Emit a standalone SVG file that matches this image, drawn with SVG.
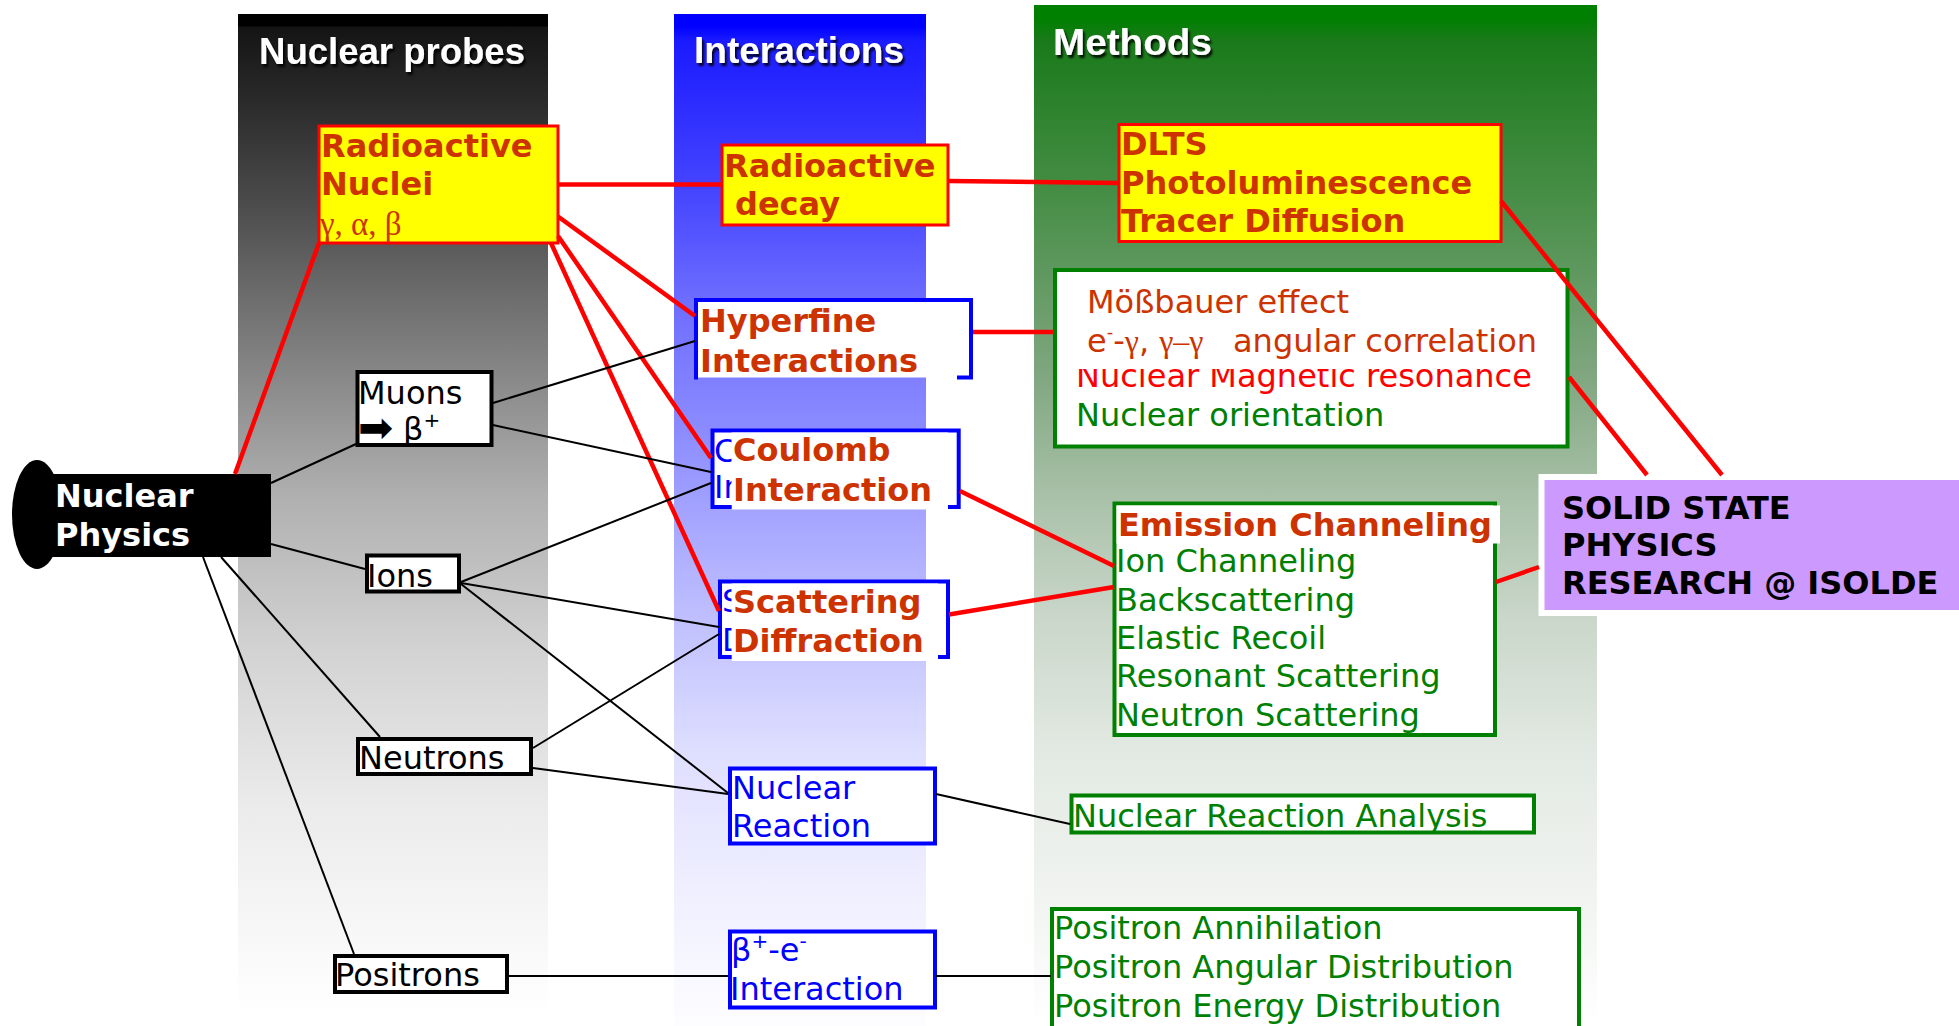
<svg xmlns="http://www.w3.org/2000/svg" width="1959" height="1026" viewBox="0 0 1959 1026">
<defs>
<linearGradient id="gProbe" x1="0" y1="0" x2="0" y2="1">
<stop offset="0" stop-color="#000"/><stop offset="0.012" stop-color="#000"/><stop offset="0.013" stop-color="#141414"/>
<stop offset="0.086" stop-color="#2a2a2a"/><stop offset="0.186" stop-color="#4a4a4a"/><stop offset="0.287" stop-color="#6e6e6e"/>
<stop offset="0.417" stop-color="#9a9a9a"/><stop offset="0.484" stop-color="#b0b0b0"/><stop offset="0.639" stop-color="#d3d3d3"/>
<stop offset="0.794" stop-color="#ebebeb"/><stop offset="1" stop-color="#fff"/>
</linearGradient>
<linearGradient id="gInter" x1="0" y1="0" x2="0" y2="1">
<stop offset="0" stop-color="#0000ff"/><stop offset="0.012" stop-color="#0000ff"/><stop offset="0.026" stop-color="#1a1aff"/>
<stop offset="0.184" stop-color="#4848ff"/><stop offset="0.283" stop-color="#6d6dff"/><stop offset="0.414" stop-color="#8c8cff"/>
<stop offset="0.5" stop-color="#a6a6ff"/><stop offset="0.6" stop-color="#c0c0ff"/><stop offset="0.727" stop-color="#dedeff"/>
<stop offset="0.875" stop-color="#f0f0ff"/><stop offset="1" stop-color="#fdfdff"/>
</linearGradient>
<linearGradient id="gMeth" x1="0" y1="0" x2="0" y2="1">
<stop offset="0" stop-color="#008000"/><stop offset="0.013" stop-color="#008000"/><stop offset="0.035" stop-color="#1a7a1a"/>
<stop offset="0.198" stop-color="#4a8f4a"/><stop offset="0.36" stop-color="#7fa67f"/><stop offset="0.483" stop-color="#a9c1a9"/>
<stop offset="0.604" stop-color="#cbd7cb"/><stop offset="0.73" stop-color="#e2e9e2"/><stop offset="0.877" stop-color="#f1f4f1"/>
<stop offset="1" stop-color="#fff"/>
</linearGradient>
<filter id="shadow" x="-10%" y="-30%" width="120%" height="160%">
<feDropShadow dx="2" dy="3" stdDeviation="1" flood-color="#000" flood-opacity="0.85"/>
</filter>
<clipPath id="nmrClip"><rect x="1060" y="369" width="500" height="30"/></clipPath>
<clipPath id="ghostC"><rect x="712" y="430" width="19.7" height="80"/></clipPath>
<clipPath id="ghostS"><rect x="720" y="580" width="11.7" height="80"/></clipPath>
<style>
.hdr{font-family:"Liberation Sans",Arial,sans-serif;font-weight:bold;font-size:37px;fill:#fff;filter:url(#shadow)}
.b{font-family:"DejaVu Sans",Verdana,sans-serif;font-weight:bold;font-size:32px}
.r{font-family:"DejaVu Sans",Verdana,sans-serif;font-size:32px}
.serif{font-family:"Liberation Serif","Times New Roman",serif}
.or{fill:#cc3300}
.gr{fill:#008000}
.bl{fill:#0000ff}
.yel{fill:#ffff00;stroke:#ff0000;stroke-width:3}
.blk{fill:#fff;stroke:#000;stroke-width:4}
.blu{fill:#fff;stroke:#0000ff;stroke-width:4}
.grn{fill:#fff;stroke:#008000;stroke-width:4}
.red{stroke:#ff0000;stroke-width:4.5;fill:none}
.thin{stroke:#000;stroke-width:2;fill:none}
</style>
</defs>
<rect width="1959" height="1026" fill="#fff"/>

<g id="columns">
<rect x="238" y="14" width="310" height="998" fill="url(#gProbe)"/>
<rect x="674" y="14" width="252" height="1012" fill="url(#gInter)"/>
<rect x="1034" y="5" width="563" height="1021" fill="url(#gMeth)"/>
<text class="hdr" x="259" y="64" textLength="266" lengthAdjust="spacingAndGlyphs">Nuclear probes</text>
<text class="hdr" x="694" y="63" textLength="210" lengthAdjust="spacingAndGlyphs">Interactions</text>
<text class="hdr" x="1053" y="55" textLength="159" lengthAdjust="spacingAndGlyphs">Methods</text>
</g>

<g id="node-nuclear-physics">
<ellipse cx="37" cy="514.5" rx="25" ry="54.5" fill="#000"/>
<rect x="37" y="474" width="234" height="83" fill="#000"/>
<text class="b" fill="#fff" x="55" y="507">Nuclear</text>
<text class="b" fill="#fff" x="55" y="546">Physics</text>
</g>

<g id="node-radioactive-nuclei">
<rect class="yel" x="319" y="126" width="239" height="117"/>
<text class="b or" x="321" y="157">Radioactive</text>
<text class="b or" x="321" y="195">Nuclei</text>
<text class="serif or" font-size="33" x="320" y="235">γ, α, β</text>
</g>

<g id="node-muons">
<rect class="blk" x="357.5" y="372" width="134" height="73"/>
<text class="r" x="358" y="404">Muons</text>
<text class="r" x="358" y="440"><tspan font-size="42" dy="2">➡</tspan><tspan x="403" dy="-2">β</tspan><tspan dy="-13" font-size="20">+</tspan></text>
</g>

<g id="node-ions">
<rect class="blk" x="367" y="555.5" width="92" height="36"/>
<text class="r" x="367" y="587">Ions</text>
</g>

<g id="node-neutrons">
<rect class="blk" x="358" y="739" width="173" height="35"/>
<text class="r" x="359" y="769">Neutrons</text>
</g>

<g id="node-positrons">
<rect class="blk" x="335" y="956" width="172" height="36"/>
<text class="r" x="335" y="986">Positrons</text>
</g>

<g id="node-radioactive-decay">
<rect class="yel" x="722" y="145" width="226" height="80"/>
<text class="b or" x="724" y="177">Radioactive</text>
<text class="b or" x="735" y="215">decay</text>
</g>

<g id="node-hyperfine">
<rect x="696" y="300" width="275" height="77.5" fill="#fff"/>
<path d="M957,377.5 H971 V300 H696 V379.5" fill="none" stroke="#0000ff" stroke-width="4"/>
<text class="b or" x="700" y="332">Hyperfine</text>
<text class="b or" x="700" y="372">Interactions</text>
</g>

<g id="node-coulomb">
<rect class="blu" x="712.5" y="430.5" width="246.2" height="76.5"/>
<text class="r bl" x="714" y="462" clip-path="url(#ghostC)">C</text>
<text class="r bl" x="714" y="498" clip-path="url(#ghostC)">In</text>
<rect x="731.7" y="432.5" width="216.3" height="77" fill="#fff"/>
<text class="b or" x="733" y="461">Coulomb</text>
<text class="b or" x="733" y="501">Interaction</text>
</g>

<g id="node-scattering">
<rect class="blu" x="720" y="581.5" width="228" height="75.5"/>
<text class="r bl" x="722" y="612" clip-path="url(#ghostS)">S</text>
<text class="r bl" x="722" y="651" clip-path="url(#ghostS)">D</text>
<rect x="731.7" y="583.5" width="206.3" height="77.5" fill="#fff"/>
<text class="b or" x="733" y="613">Scattering</text>
<text class="b or" x="733" y="652">Diffraction</text>
</g>

<g id="node-nuclear-reaction">
<rect class="blu" x="730" y="768.5" width="205" height="75"/>
<text class="r bl" x="732" y="799">Nuclear</text>
<text class="r bl" x="732" y="837">Reaction</text>
</g>

<g id="node-beta-e-interaction">
<rect class="blu" x="730" y="931.5" width="205" height="76"/>
<text class="r bl" x="731" y="961">β<tspan dy="-13" font-size="20">+</tspan><tspan dy="13">-e</tspan><tspan dy="-13" font-size="20">-</tspan></text>
<text class="r bl" x="730" y="1000">Interaction</text>
</g>

<g id="node-dlts">
<rect class="yel" x="1119" y="124.5" width="382" height="117"/>
<text class="b or" x="1121" y="155">DLTS</text>
<text class="b or" x="1121" y="194">Photoluminescence</text>
<text class="b or" x="1121" y="232">Tracer Diffusion</text>
</g>

<g id="node-hyperfine-methods">
<rect class="grn" x="1055" y="270" width="512.5" height="176.5"/>
<text class="r or" x="1087" y="313">Mößbauer effect</text>
<text class="r or" x="1087" y="352">e<tspan dy="-14" font-size="18">-</tspan><tspan dy="14">-</tspan><tspan class="serif">γ</tspan>, <tspan class="serif">γ–γ</tspan><tspan x="1233">angular correlation</tspan></text>
<text class="r" fill="#ff0000" x="1076" y="387" clip-path="url(#nmrClip)">Nuclear Magnetic resonance</text>
<text class="r gr" x="1076" y="426">Nuclear orientation</text>
</g>

<g id="node-channeling-methods">
<rect class="grn" x="1114.5" y="503.5" width="380.5" height="231.5"/>
<rect x="1116.5" y="505.5" width="383.5" height="38" fill="#fff"/>
<text class="b or" x="1118" y="536">Emission Channeling</text>
<text class="r gr" x="1116" y="572">Ion Channeling</text>
<text class="r gr" x="1116" y="610.5">Backscattering</text>
<text class="r gr" x="1116" y="648.5">Elastic Recoil</text>
<text class="r gr" x="1116" y="687">Resonant Scattering</text>
<text class="r gr" x="1116" y="725.5">Neutron Scattering</text>
</g>

<g id="node-nra">
<rect class="grn" x="1071.5" y="795.5" width="462.5" height="37"/>
<text class="r gr" x="1073" y="827">Nuclear Reaction Analysis</text>
</g>

<g id="node-positron-methods">
<rect class="grn" x="1052" y="909" width="527" height="130"/>
<text class="r gr" x="1054" y="938.5">Positron Annihilation</text>
<text class="r gr" x="1054" y="977.5">Positron Angular Distribution</text>
<text class="r gr" x="1054" y="1016.5">Positron Energy Distribution</text>
</g>

<g id="node-solid-state">
<rect x="1541.5" y="477" width="430" height="136" fill="#cc99ff" stroke="#fff" stroke-width="6"/>
<text class="b" font-size="33" fill="#000" x="1562" y="518.5">SOLID STATE</text>
<text class="b" font-size="33" fill="#000" x="1562" y="556">PHYSICS</text>
<text class="b" font-size="33" fill="#000" x="1562" y="594">RESEARCH @ ISOLDE</text>
</g>

<g id="connectors">
<line class="red" x1="235" y1="474" x2="319" y2="243"/>
<line class="red" x1="558" y1="184.5" x2="722" y2="184.5"/>
<line class="red" x1="948" y1="181" x2="1119" y2="183"/>
<line class="red" x1="1501" y1="201" x2="1722" y2="475"/>
<line class="red" x1="1569" y1="377" x2="1647" y2="475"/>
<line class="red" x1="1496" y1="582" x2="1539" y2="567"/>
<line class="red" x1="558" y1="216.5" x2="695" y2="316"/>
<line class="red" x1="558" y1="236" x2="711" y2="458"/>
<line class="red" x1="551" y1="243" x2="719" y2="611"/>
<line class="red" x1="973" y1="332" x2="1054" y2="332"/>
<line class="red" x1="960" y1="491" x2="1114" y2="566"/>
<line class="red" x1="949" y1="614.5" x2="1114" y2="587"/>
<line class="thin" x1="271" y1="483" x2="356" y2="444"/>
<line class="thin" x1="271" y1="544" x2="365" y2="569"/>
<line class="thin" x1="221" y1="557" x2="380" y2="737"/>
<line class="thin" x1="203" y1="557" x2="354" y2="954"/>
<line class="thin" x1="493" y1="403" x2="695" y2="341"/>
<line class="thin" x1="493" y1="425" x2="711" y2="472"/>
<line class="thin" x1="461" y1="582" x2="711" y2="483"/>
<line class="thin" x1="461" y1="583" x2="719" y2="627"/>
<line class="thin" x1="461" y1="584" x2="728" y2="793"/>
<line class="thin" x1="533" y1="748" x2="719" y2="634"/>
<line class="thin" x1="533" y1="768" x2="728" y2="794"/>
<line class="thin" x1="936" y1="794" x2="1070" y2="824"/>
<line class="thin" x1="509" y1="976" x2="728" y2="976"/>
<line class="thin" x1="936" y1="976" x2="1051" y2="976"/>
</g>
</svg>
